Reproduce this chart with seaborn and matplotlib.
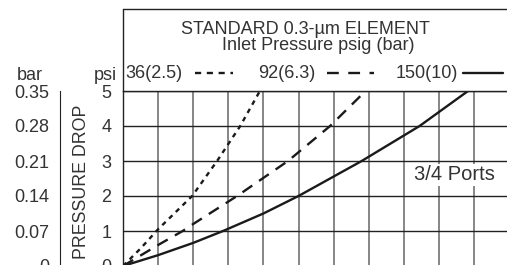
import numpy as np
import pandas as pd
import matplotlib
matplotlib.use("Agg")
import matplotlib.pyplot as plt
import seaborn as sns
from matplotlib.lines import Line2D

# values (x in grid divisions, y in psi)
flow_36 = [0, 0.5, 1.0, 1.97, 2.68, 3.34, 3.9]
drop_36 = [0, 0.5, 1.05, 2, 3, 4, 5]
flow_92 = [0, 1, 1.7, 2, 3, 3.25, 4.7, 5.9, 6.91]
drop_92 = [0, 0.6, 1, 1.2, 1.84, 2, 3, 4, 5]
flow_150 = [0, 1, 2, 2.85, 4, 5, 6.8, 8.45, 9.83]
drop_150 = [0, 0.31, 0.66, 1, 1.5, 2, 3, 4, 5]

series = ["36(2.5)", "92(6.3)", "150(10)"]
psi_ticks = [0, 1, 2, 3, 4, 5]
bar_ticks = [0, 0.07, 0.14, 0.21, 0.28, 0.35]
bar_labels = ["0", "0.07", "0.14", "0.21", "0.28", "0.35"]

df = pd.concat([
    pd.DataFrame({"flow": flow_36, "drop": drop_36, "inlet": series[0]}),
    pd.DataFrame({"flow": flow_92, "drop": drop_92, "inlet": series[1]}),
    pd.DataFrame({"flow": flow_150, "drop": drop_150, "inlet": series[2]}),
])

sns.set_style("white")
plt.rcParams["font.family"] = ["Liberation Sans", "DejaVu Sans"]
txt = "#333333"

W, H = 507, 265
fig = plt.figure(figsize=(W / 100, H / 100), dpi=100)

# main grid axes
x0, y5, y0 = 123, 91, 266
ax = fig.add_axes([x0 / W, (H - y0) / H, (W - x0) / W, (y0 - y5) / H])
dashes = {series[0]: (2, 2), series[1]: (5, 3.5), series[2]: ""}
sns.lineplot(data=df, x="flow", y="drop", style="inlet", dashes=dashes,
             color="#1a1a1a", linewidth=1.7, sort=False, estimator=None,
             legend=False, ax=ax)
ax.set_xlim(0, (W - x0) / 35.1)
ax.set_ylim(0, 5)
ax.set_xticks(np.arange(1, 11))
ax.set_yticks(psi_ticks)
ax.grid(True, axis="x", color="#666666", linewidth=1.1)
ax.grid(True, axis="y", color="#222222", linewidth=1.0)
ax.tick_params(axis="x", length=0, labelbottom=False)
ax.tick_params(axis="y", length=0, pad=12, labelsize=13, labelcolor=txt)
for lab in ax.get_yticklabels():
    lab.set_horizontalalignment("center")
ax.set_xlabel("")
ax.set_ylabel("PRESSURE DROP", fontsize=12.8, color=txt)
ax.yaxis.set_label_coords(-0.085, 0.48)
ax.spines["right"].set_visible(False)
ax.spines["bottom"].set_visible(False)
for s in ["left", "top"]:
    ax.spines[s].set_color("#222222")
    ax.spines[s].set_linewidth(1.0)

ax.text(0.968, 0.52, "3/4 Ports", transform=ax.transAxes, ha="right",
        va="center", fontsize=14.5, color=txt,
        bbox=dict(facecolor="white", edgecolor="none", pad=1))

# bar axis on the far left
axb = fig.add_axes([60 / W, (H - y0) / H, 0.001, (y0 - y5) / H])
axb.set_ylim(0, 0.35)
axb.set_yticks(bar_ticks)
axb.set_yticklabels(bar_labels)
axb.set_xticks([])
for s in ["right", "top", "bottom"]:
    axb.spines[s].set_visible(False)
axb.spines["left"].set_color("#222222")
axb.tick_params(axis="y", length=4, width=1, pad=4, labelsize=13,
                labelcolor=txt, color="#222222")
axb.patch.set_alpha(0)

# unit labels
fig.text(30 / W, (H - 75) / H, "bar", ha="center", va="center",
         fontsize=13, color=txt)
fig.text(105 / W, (H - 75) / H, "psi", ha="center", va="center",
         fontsize=13, color=txt)

# header box
fig.add_artist(Line2D([x0 / W, x0 / W], [(H - y5) / H, (H - 9) / H],
                      color="#222222", linewidth=1.0))
fig.add_artist(Line2D([x0 / W, 1], [(H - 9) / H, (H - 9) / H],
                      color="#222222", linewidth=1.0))
fig.text(305 / W, (H - 29) / H, "STANDARD 0.3-\u00b5m ELEMENT", ha="center",
         va="center", fontsize=13, color=txt)
fig.text(318 / W, (H - 45) / H, "Inlet Pressure psig (bar)", ha="center",
         va="center", fontsize=13, color=txt)

# legend row
ly = (H - 73) / H
fig.text(125 / W, ly, series[0], ha="left", va="center", fontsize=13, color=txt)
fig.text(258 / W, ly, series[1], ha="left", va="center", fontsize=13, color=txt)
fig.text(396 / W, ly, series[2], ha="left", va="center", fontsize=13, color=txt)
fig.add_artist(Line2D([195 / W, 233 / W], [ly, ly], color="#1a1a1a",
                      linewidth=1.7, dashes=(2.6, 2.4)))
fig.add_artist(Line2D([327 / W, 374 / W], [ly, ly], color="#1a1a1a",
                      linewidth=1.7, dashes=(5, 4)))
fig.add_artist(Line2D([463 / W, 503 / W], [ly, ly], color="#1a1a1a",
                      linewidth=1.7))

fig.savefig("out.png", dpi=100)
